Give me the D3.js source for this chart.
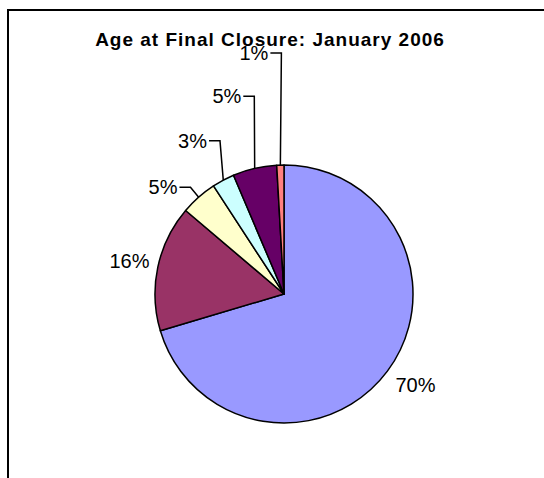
<!DOCTYPE html>
<html>
<head>
<meta charset="utf-8">
<script src="https://d3js.org/d3.v7.min.js"></script>
<style>
  body { margin: 0; background: #fff; }
  text { font-family: "Liberation Sans", Arial, sans-serif; fill: #000; }
</style>
</head>
<body>
<svg id="chart"></svg>
<script>
// slice data, clockwise from 12 o'clock
var categories = ["A", "B", "C", "D", "E", "F"];
var values = [70.4, 15.8, 4.6, 2.8, 5.5, 0.9];
var labels = ["70%", "16%", "5%", "3%", "5%", "1%"];
var colors = ["#9999FF", "#993366", "#FFFFCC", "#CCFFFF", "#660066", "#FF8080"];

// label layout: angle shift (deg) from slice middle, distance from centre, leader?
var labelShift = [-2, 0.2, 0.2, 5.4, 4.6, 1.0];
var labelDist = [160, 158, 142, 166, 200, 241];
var hasLeader = [false, false, true, true, true, true];

var width = 544, height = 478;
var cx = 284, cy = 294, radius = 129;

var svg = d3.select("#chart")
    .attr("width", width)
    .attr("height", height);

// chart frame (runs off the right and bottom edges)
svg.append("rect")
    .attr("x", 8)
    .attr("y", 10)
    .attr("width", 560)
    .attr("height", 500)
    .attr("fill", "none")
    .attr("stroke", "#000")
    .attr("stroke-width", 2);

svg.append("text")
    .attr("x", 270)
    .attr("y", 46)
    .attr("text-anchor", "middle")
    .style("font-size", "19px")
    .style("font-weight", "bold")
    .style("letter-spacing", "1px")
    .text("Age at Final Closure: January 2006");

var pie = d3.pie().sort(null).value(function(d) { return d; });
var arcs = pie(values);

var arc = d3.arc().innerRadius(0).outerRadius(radius);

var g = svg.append("g")
    .attr("transform", "translate(" + cx + "," + cy + ")");

g.selectAll("path.slice")
    .data(arcs)
  .enter().append("path")
    .attr("class", "slice")
    .attr("d", arc)
    .attr("fill", function(d, i) { return colors[i]; })
    .attr("stroke", "#000")
    .attr("stroke-width", 1.5)
    .attr("stroke-linejoin", "round");

function polar(angle, r) {
  return [r * Math.sin(angle), -r * Math.cos(angle)];
}

arcs.forEach(function(d, i) {
  var mid = (d.startAngle + d.endAngle) / 2;
  var a = mid + labelShift[i] * Math.PI / 180;
  var p = polar(a, labelDist[i]);
  if (hasLeader[i]) {
    var edge = polar(mid, radius);
    g.append("polyline")
      .attr("points", [edge, p, [p[0] - 11, p[1]]].map(function(q) { return q.join(","); }).join(" "))
      .attr("fill", "none")
      .attr("stroke", "#000")
      .attr("stroke-width", 1.5);
    g.append("text")
      .attr("x", p[0] - 13)
      .attr("y", p[1])
      .attr("dy", "0.35em")
      .attr("text-anchor", "end")
      .style("font-size", "20px")
      .text(labels[i]);
  } else {
    g.append("text")
      .attr("x", p[0])
      .attr("y", p[1])
      .attr("dy", "0.35em")
      .attr("text-anchor", "middle")
      .style("font-size", "20px")
      .text(labels[i]);
  }
});
</script>
</body>
</html>
